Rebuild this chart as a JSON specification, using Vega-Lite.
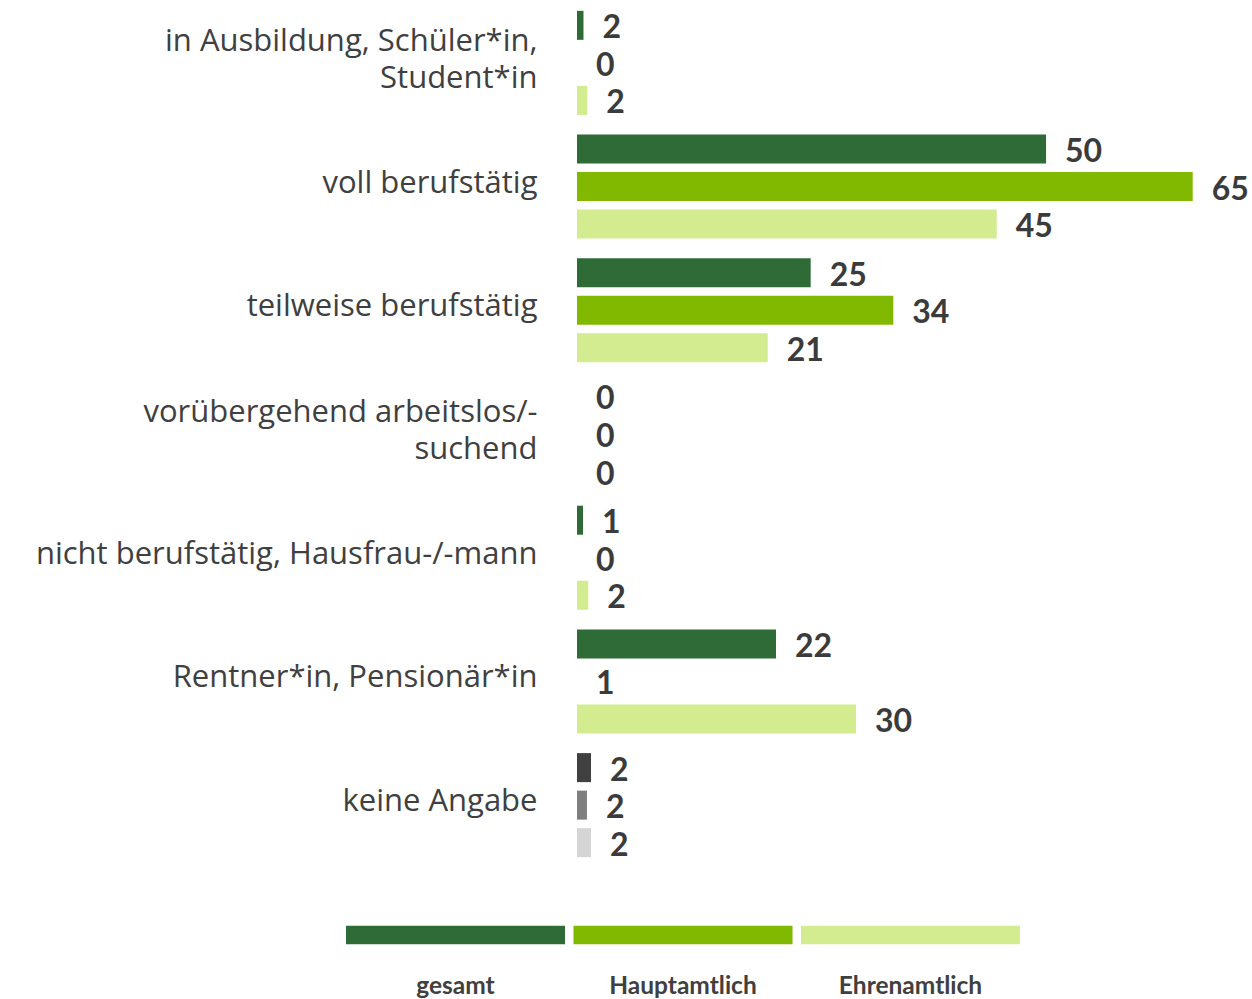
{
  "$schema": "https://vega.github.io/schema/vega-lite/v6.json",
  "width": 658,
  "height": 866,
  "autosize": {"type": "none"},
  "padding": {"left": 577, "top": 1, "right": 17, "bottom": 132},
  "background": "white",
  "config": {
    "font": "Lato",
    "view": {"stroke": null}
  },
  "data": {
    "values": [
      {"kategorie": "in Ausbildung, Schüler*in,\nStudent*in", "gruppe": "gesamt", "farbe": "gesamt", "wert": 0.69, "label": 2},
      {"kategorie": "in Ausbildung, Schüler*in,\nStudent*in", "gruppe": "Hauptamtlich", "farbe": "Hauptamtlich", "wert": 0, "label": 0},
      {"kategorie": "in Ausbildung, Schüler*in,\nStudent*in", "gruppe": "Ehrenamtlich", "farbe": "Ehrenamtlich", "wert": 1.1, "label": 2},
      {"kategorie": "voll berufstätig", "gruppe": "gesamt", "farbe": "gesamt", "wert": 49.9, "label": 50},
      {"kategorie": "voll berufstätig", "gruppe": "Hauptamtlich", "farbe": "Hauptamtlich", "wert": 65.5, "label": 65},
      {"kategorie": "voll berufstätig", "gruppe": "Ehrenamtlich", "farbe": "Ehrenamtlich", "wert": 44.65, "label": 45},
      {"kategorie": "teilweise berufstätig", "gruppe": "gesamt", "farbe": "gesamt", "wert": 24.86, "label": 25},
      {"kategorie": "teilweise berufstätig", "gruppe": "Hauptamtlich", "farbe": "Hauptamtlich", "wert": 33.65, "label": 34},
      {"kategorie": "teilweise berufstätig", "gruppe": "Ehrenamtlich", "farbe": "Ehrenamtlich", "wert": 20.29, "label": 21},
      {"kategorie": "vorübergehend arbeitslos/-\nsuchend", "gruppe": "gesamt", "farbe": "gesamt", "wert": 0, "label": 0},
      {"kategorie": "vorübergehend arbeitslos/-\nsuchend", "gruppe": "Hauptamtlich", "farbe": "Hauptamtlich", "wert": 0, "label": 0},
      {"kategorie": "vorübergehend arbeitslos/-\nsuchend", "gruppe": "Ehrenamtlich", "farbe": "Ehrenamtlich", "wert": 0, "label": 0},
      {"kategorie": "nicht berufstätig, Hausfrau-/-mann", "gruppe": "gesamt", "farbe": "gesamt", "wert": 0.64, "label": 1},
      {"kategorie": "nicht berufstätig, Hausfrau-/-mann", "gruppe": "Hauptamtlich", "farbe": "Hauptamtlich", "wert": 0, "label": 0},
      {"kategorie": "nicht berufstätig, Hausfrau-/-mann", "gruppe": "Ehrenamtlich", "farbe": "Ehrenamtlich", "wert": 1.2, "label": 2},
      {"kategorie": "Rentner*in, Pensionär*in", "gruppe": "gesamt", "farbe": "gesamt", "wert": 21.17, "label": 22},
      {"kategorie": "Rentner*in, Pensionär*in", "gruppe": "Hauptamtlich", "farbe": "Hauptamtlich", "wert": 0, "label": 1},
      {"kategorie": "Rentner*in, Pensionär*in", "gruppe": "Ehrenamtlich", "farbe": "Ehrenamtlich", "wert": 29.68, "label": 30},
      {"kategorie": "keine Angabe", "gruppe": "gesamt", "farbe": "gesamt (k.A.)", "wert": 1.49, "label": 2},
      {"kategorie": "keine Angabe", "gruppe": "Hauptamtlich", "farbe": "Hauptamtlich (k.A.)", "wert": 1.06, "label": 2},
      {"kategorie": "keine Angabe", "gruppe": "Ehrenamtlich", "farbe": "Ehrenamtlich (k.A.)", "wert": 1.49, "label": 2}
    ]
  },
  "encoding": {
    "y": {
      "field": "kategorie",
      "type": "nominal",
      "sort": null,
      "scale": {"paddingInner": 0.159, "paddingOuter": 0.0795},
      "axis": {
        "title": null,
        "domain": false,
        "ticks": false,
        "labelPadding": 40,
        "labelFont": "Open Sans",
        "labelFontSize": 31,
        "labelColor": "#404040",
        "labelLimit": 700,
        "labelLineHeight": 37,
        "labelOffset": {"condition": {"test": "indexof(datum.value, '\\n') >= 0", "value": -21}, "value": -3},
        "labelExpr": "split(datum.label, '\\n')"
      }
    },
    "yOffset": {
      "field": "gruppe",
      "type": "nominal",
      "sort": ["gesamt", "Hauptamtlich", "Ehrenamtlich"],
      "scale": {"paddingInner": 0.2267, "paddingOuter": 0}
    }
  },
  "layer": [
    {
      "mark": {"type": "bar"},
      "encoding": {
        "x": {
          "field": "wert",
          "type": "quantitative",
          "scale": {"domain": [0, 70], "nice": false},
          "axis": null
        },
        "color": {
          "field": "farbe",
          "type": "nominal",
          "scale": {
            "domain": ["gesamt", "Hauptamtlich", "Ehrenamtlich", "gesamt (k.A.)", "Hauptamtlich (k.A.)", "Ehrenamtlich (k.A.)"],
            "range": ["#2f6b37", "#80b900", "#d2ec8f", "#404040", "#7f7f7f", "#d5d5d5"]
          },
          "legend": {
            "values": ["gesamt", "Hauptamtlich", "Ehrenamtlich"],
            "title": null,
            "orient": "none",
            "legendX": -231,
            "legendY": 876.5,
            "direction": "horizontal",
            "padding": 0,
            "symbolType": "M-1,-0.559H1V-0.39H-1Z",
            "symbolSize": 47961,
            "symbolStrokeWidth": 0,
            "symbolOpacity": 1,
            "labelOffset": -109.5,
            "labelAlign": "center",
            "labelFont": "Lato",
            "labelFontSize": 24.5,
            "labelFontWeight": "bold",
            "labelColor": "#404040",
            "labelLimit": 300,
            "columnPadding": 8.5
          }
        }
      }
    },
    {
      "mark": {"type": "text", "align": "left", "baseline": "middle", "dx": 19, "dy": 3, "font": "Lato", "fontSize": 32, "fontWeight": "bold", "color": "#3b3b3b"},
      "encoding": {
        "x": {"field": "wert", "type": "quantitative"},
        "text": {"field": "label", "type": "quantitative"}
      }
    }
  ]
}
